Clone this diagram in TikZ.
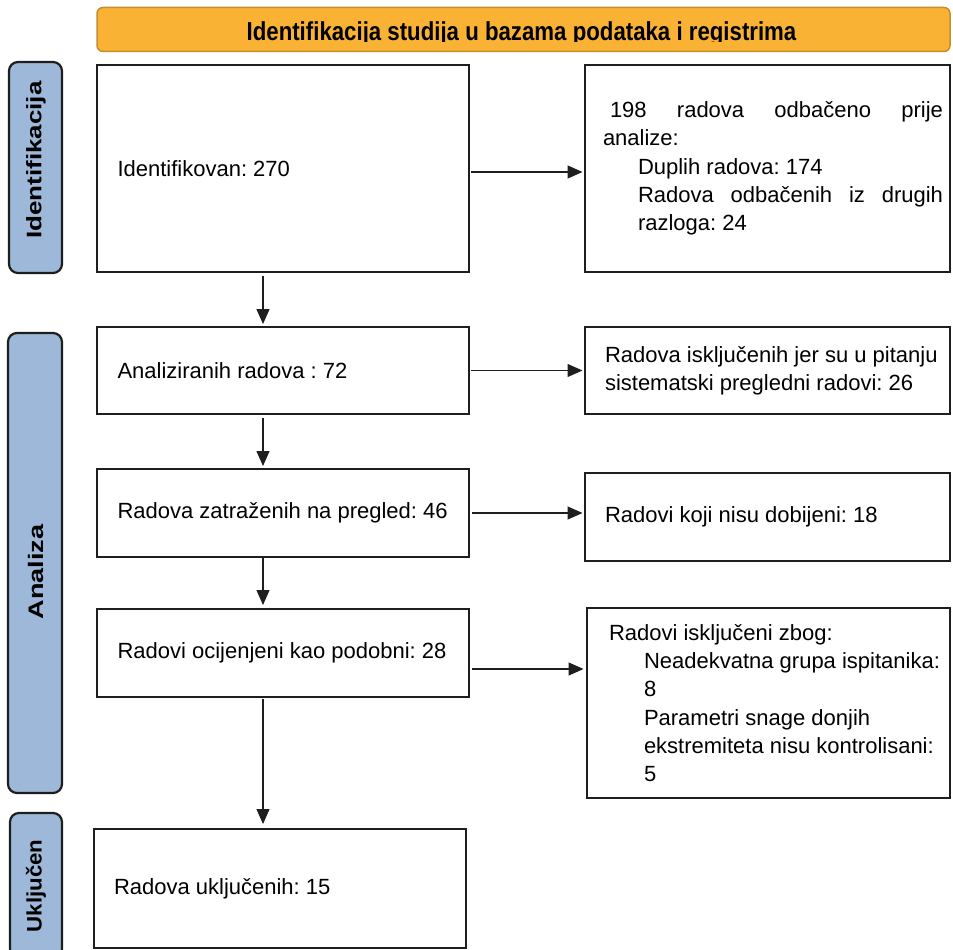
\documentclass[tikz,border=0pt]{standalone}
\usepackage{fontspec}
\setmainfont{Liberation Sans}
\usetikzlibrary{arrows.meta}
\definecolor{barblue}{RGB}{157,184,217}
\definecolor{banorange}{RGB}{249,178,51}
\definecolor{banedge}{RGB}{196,142,48}
\definecolor{lineblk}{RGB}{30,30,30}
\newcommand{\nb}[1]{\makebox[0pt][l]{\frenchspacing\spaceskip=0pt\xspaceskip=0pt\relax #1}}
\newcommand{\jl}[2]{\makebox[0pt][l]{\makebox[#1][s]{\frenchspacing\spaceskip=0.278em plus 1fil\xspaceskip=0pt\relax #2}}}
\begin{document}
\begin{tikzpicture}[x=1pt,y=-1pt,
  every node/.style={inner sep=0pt, outer sep=0pt},
  box/.style={draw=lineblk, line width=1.8pt, rectangle, font=\fontsize{22}{28.3}\selectfont, align=left},
  lbox/.style={box, minimum width=372pt, text width=331pt},
  rbox/.style={box, minimum width=365pt},
  bar/.style={draw=lineblk, line width=2.2pt, fill=barblue, rounded corners=9pt, rectangle, minimum width=53pt},
  bartext/.style={rotate=90, font=\fontsize{21}{25}\selectfont\bfseries},
  arr/.style={draw=lineblk, line width=1.2pt, -{Triangle[length=15pt,width=13pt]}},
]
\clip (0,0) rectangle (953,950);
\fill[white] (0,0) rectangle (953,950);

% banner
\node[draw=banedge, line width=1.5pt, fill=banorange, rounded corners=6pt, minimum width=853pt, minimum height=44pt] (ban) at (523.5,29.5) {};
\begin{scope}
\clip (100,0) rectangle (948,41.5);
\node[font=\fontsize{26}{30}\selectfont\bfseries, anchor=base] (bant) at (521.5,40.5) {\scalebox{0.855}[1]{Identifikacija studija u bazama podataka i registrima}};
\end{scope}

% side bars
\node[bar, minimum height=211pt] (bid) at (35.5,167.5) {};
\node[bartext] (lid) at (36,160) {\scalebox{1.236}[1]{Identifikacija}};
\node[bar, minimum height=460pt, minimum width=54pt] (ban2) at (35,563) {};
\node[bartext] (lan) at (36,572) {\scalebox{1.29}[1]{Analiza}};
\node[bar, minimum height=145pt, minimum width=52pt] (binc) at (36,885.5) {};
\node[bartext] (linc) at (36,886) {\scalebox{1.06}[1]{Uključen}};

% left boxes
\node[lbox, minimum height=207pt] (id) at (283,168.5) {\nb{Identifikovan: 270}};
\node[lbox, minimum height=87pt] (an) at (283,370.5) {\nb{Analiziranih radova : 72}};
\node[lbox, minimum height=88pt] (za) at (283,513) {\nb{Radova zatraženih na pregled: 46}};
\node[lbox, minimum height=88pt] (oc) at (283,653) {\nb{Radovi ocijenjeni kao podobni: 28}};
\node[box, minimum width=372pt, minimum height=119pt, text width=332pt] (inc) at (280,888.5) {\nb{Radova uključenih: 15}};

% right boxes
\node[rbox, minimum height=207pt, text width=329pt] (r1) at (767.5,168.5) {%
\jl{340pt}{\hspace*{7pt}198 radova odbačeno prije}\\
\nb{analize:}\\
\nb{\hspace*{35pt}Duplih radova: 174}\\
\nb{\hspace*{35pt}\jl{305pt}{Radova odbačenih iz drugih}}\\
\nb{\hspace*{35pt}razloga: 24}};
\node[rbox, minimum height=87pt, text width=325pt] (r2) at (767.5,370.5) {%
\nb{Radova isključenih jer su u pitanju}\\
\nb{sistematski pregledni radovi: 26}};
\node[rbox, minimum height=88pt, text width=325pt] (r3) at (767.5,517) {\nb{Radovi koji nisu dobijeni: 18}};
\node[box, minimum width=363pt, minimum height=190pt, text width=319pt] (r4) at (768.5,703) {%
\nb{Radovi isključeni zbog:}\\
\nb{\hspace*{35pt}Neadekvatna grupa ispitanika:}\\
\nb{\hspace*{35pt}8}\\
\nb{\hspace*{35pt}Parametri snage donjih}\\
\nb{\hspace*{35pt}ekstremiteta nisu kontrolisani:}\\
\nb{\hspace*{35pt}5}};

% connectors
\coordinate (ax) at (263,0);
\coordinate (h1) at (0,172);
\coordinate (h4) at (0,669);
\draw[arr, shorten <=1.5pt, shorten >=2.5pt] (id.east |- h1) -- (r1.west |- h1);
\draw[arr, shorten <=1.5pt, shorten >=2.5pt] (an.east) -- (an.east -| r2.west);
\draw[arr, shorten <=2.5pt, shorten >=2.5pt] (za.east) -- (za.east -| r3.west);
\draw[arr, shorten <=2.5pt, shorten >=3.5pt] (oc.east |- h4) -- (r4.west |- h4);
\draw[arr, shorten <=4pt, shorten >=3pt] (id.south -| ax) -- (an.north -| ax);
\draw[arr, shorten <=4pt, shorten >=3pt] (an.south -| ax) -- (za.north -| ax);
\draw[arr, shorten <=0.5pt, shorten >=4pt] (za.south -| ax) -- (oc.north -| ax);
\draw[arr, shorten <=2pt, shorten >=5pt] (oc.south -| ax) -- (inc.north -| ax);
\end{tikzpicture}
\end{document}
